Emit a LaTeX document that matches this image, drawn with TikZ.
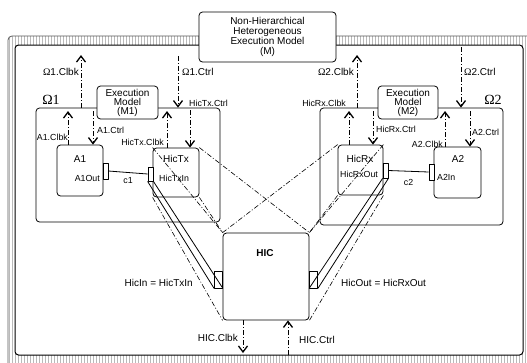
\documentclass[tikz,border=0pt]{standalone}
\usepackage{fontspec}
\setmainfont{Liberation Sans}
\newfontfamily\omfont{Liberation Serif}
\usetikzlibrary{arrows.meta, calc, patterns}

\tikzset{
  blk/.style={draw, rounded corners=3.5, fill=white, line width=0.8, inner sep=0},
  port/.style={draw, fill=white, line width=0.8, inner sep=0, minimum width=5, minimum height=15},
  sig/.style={line width=0.8, dash pattern=on 5pt off 2pt on 1pt off 2pt,
    -{Straight Barb[length=6pt, width=9pt, line width=1.3pt]}},
  proj/.style={line width=0.6, dash pattern=on 5pt off 2pt on 1pt off 2pt},
  lbl/.style={font=\fontsize{8.8}{9}\selectfont, inner sep=0},
  omlbl/.style={font=\fontsize{10}{10}\selectfont, inner sep=0},
  txt/.style={font=\fontsize{10}{10}\selectfont, inner sep=0, align=center},
}

\begin{document}
\begin{tikzpicture}[x=1pt, y=-1pt, line join=round]
  \useasboundingbox (0,0) rectangle (527,362);

  %% ---- hatched frame ----
  \begin{scope}
    \clip (0,0) rectangle (527,362);
    \draw[gray!70!black, line width=0.8, rounded corners=4, pattern=vertical lines, pattern color=gray!55]
      (8,36) rectangle (560,390);
  \end{scope}
  \draw[blk, line width=1] (15,45) rectangle (523,355);

  %% ---- top level model ----
  \node[blk, minimum width=137, minimum height=50] (M) at (267.5,37) {};
  \node[txt, font=\fontsize{10}{10}\selectfont] (Mtxt) at (M.center)
    {Non-Hierarchical\\Heterogeneous\\Execution Model\\(M)};

  %% ---- domains ----
  \node[blk, minimum width=184, minimum height=114] (Om1) at (128,165) {};
  \node[blk, minimum width=183, minimum height=117] (Om2) at (411.5,166.5) {};
  \node[inner sep=0, font=\omfont\fontsize{14}{14}\selectfont] (Om1L) at (51,100) {Ω1};
  \node[inner sep=0, font=\omfont\fontsize{14}{14}\selectfont] (Om2L) at (493,100) {Ω2};

  \node[blk, minimum width=61, minimum height=33] (M1) at (127.5,102.5) {};
  \node[txt, font=\fontsize{10}{9}\selectfont] (M1txt) at (M1.center) {Execution\\Model\\(M1)};
  \node[blk, minimum width=60, minimum height=33] (M2) at (408,102.5) {};
  \node[txt, font=\fontsize{10}{9}\selectfont] (M2txt) at (M2.center) {Execution\\Model\\(M2)};

  %% ---- components ----
  \node[blk, minimum width=46, minimum height=51] (A1) at (80,170.5) {};
  \node[blk, minimum width=46, minimum height=49] (HicTx) at (176,172.5) {};
  \node[blk, minimum width=45, minimum height=50] (HicRx) at (360.5,170) {};
  \node[blk, minimum width=47, minimum height=51] (A2) at (457.5,172.5) {};
  \node[blk, minimum width=86, minimum height=87] (HIC) at (266,276.5) {};

  \node[txt] (A1L) at (80,159) {A1};
  \node[lbl, anchor=east] (A1OutL) at (100,178) {A1Out};
  \node[txt] (HicTxL) at (176,159) {HicTx};
  \node[lbl, anchor=west] (HicTxInL) at (159,178) {HicTxIn};
  \node[txt] (HicRxL) at (360,159) {HicRx};
  \node[lbl, anchor=west] (HicRxOutL) at (340,174) {HicRxOut};
  \node[txt] (A2L) at (458,159) {A2};
  \node[lbl, anchor=west] (A2InL) at (437,177) {A2In};
  \node[txt, font=\bfseries\fontsize{10}{10}\selectfont] (HICL) at (265,253) {HIC};

  %% ---- ports ----
  \node[port, minimum height=16] (A1out) at (105.5,171) {};
  \node[port, minimum height=14] (HicTxin) at (150.5,174) {};
  \node[port] (HicRxout) at (385.5,170.5) {};
  \node[port, minimum height=16] (A2in) at (431.5,172) {};
  \node[port, minimum width=8, minimum height=17] (HICin) at (218.5,279.5) {};
  \node[port, minimum width=8, minimum height=17] (HICout) at (313.5,279.5) {};

  %% ---- channels ----
  \draw[line width=0.8] (A1out.east) -- (HicTxin.west) node[lbl, midway, below=5pt] (c1) {c1};
  \draw[line width=0.8] (HicRxout.east) -- (A2in.west) node[lbl, midway, below=8pt] (c2) {c2};

  %% ---- port equivalences ----
  \draw[line width=0.8] (HicTxin.south west) -- (HICin.south west);
  \draw[line width=0.8] (HicTxin.south east) -- (HICin.south east);
  \draw[line width=0.8] (HicRxout.south east) -- (HICout.south east);
  \draw[line width=0.8] (HicRxout.south west) -- (HICout.south west);
  \node[omlbl, anchor=east] (HicInL) at (193,283) {HicIn = HicTxIn};
  \node[omlbl, anchor=west] (HicOutL) at (341,283) {HicOut = HicRxOut};

  %% ---- projections onto HIC ----
  \draw[proj] (HicTx.north east) -- (HIC.north east);
  \draw[proj] (HicTx.north west) -- (HIC.north west);
  \draw[proj] (HicTx.south east) -- (HIC.north west);
  \draw[proj] (HicTx.south west) -- (HIC.south west);
  \draw[proj] (HicRx.north west) -- (HIC.north west);
  \draw[proj] (HicRx.north east) -- (HIC.north east);
  \draw[proj] (HicRx.south west) -- (HIC.north east);
  \draw[proj] (HicRx.south east) -- (HIC.south east);

  %% ---- top level signals ----
  \coordinate (o1clbk) at (81,55);
  \coordinate (o1ctrl) at (178,56);
  \coordinate (o2clbk) at (357,55);
  \coordinate (o2ctrl) at (461,47);
  \draw[sig] (o1clbk |- Om1.north) -- (o1clbk);
  \draw[sig] (o1ctrl) -- (o1ctrl |- Om1.north);
  \draw[sig] (o2clbk |- Om2.north) -- (o2clbk);
  \draw[sig] (o2ctrl) -- (o2ctrl |- Om2.north);
  \node[omlbl, anchor=east] (o1clbkL) at (79,72) {{\omfont Ω}1.Clbk};
  \node[omlbl, anchor=west] (o1ctrlL) at (182,72) {{\omfont Ω}1.Ctrl};
  \node[omlbl, anchor=east] (o2clbkL) at (354,72) {{\omfont Ω}2.Clbk};
  \node[omlbl, anchor=west] (o2ctrlL) at (464,72) {{\omfont Ω}2.Ctrl};

  %% ---- domain signals ----
  \coordinate (a1clbk) at (68,111);
  \coordinate (a1ctrl) at (93,111);
  \coordinate (txclbk) at (167,111);
  \coordinate (txctrl) at (190,110);
  \coordinate (rxclbk) at (349,111);
  \coordinate (rxctrl) at (373,111);
  \coordinate (a2clbk) at (445,111);
  \coordinate (a2ctrl) at (470,111);
  \draw[sig] (a1clbk |- A1.north) -- (a1clbk);
  \draw[sig] (a1ctrl) -- (a1ctrl |- A1.north);
  \draw[sig] (txclbk |- HicTx.north) -- (txclbk);
  \draw[sig] (txctrl) -- (txctrl |- HicTx.north);
  \draw[sig] (rxclbk |- HicRx.north) -- (rxclbk);
  \draw[sig] (rxctrl) -- (rxctrl |- HicRx.north);
  \draw[sig] (a2clbk |- A2.north) -- (a2clbk);
  \draw[sig] (a2ctrl) -- (a2ctrl |- A2.north);
  \node[lbl, anchor=east] (a1clbkL) at (68,137) {A1.Clbk};
  \node[lbl, anchor=west] (a1ctrlL) at (97,130) {A1.Ctrl};
  \node[lbl, anchor=east] (txclbkL) at (164,142) {HicTx.Clbk};
  \node[lbl, anchor=west] (txctrlL) at (189,103) {HicTx.Ctrl};
  \node[lbl, anchor=east] (rxclbkL) at (346,103) {HicRx.Clbk};
  \node[lbl, anchor=west] (rxctrlL) at (376,129) {HicRx.Ctrl};
  \node[lbl, anchor=east] (a2clbkL) at (443,144) {A2.Clbk};
  \node[lbl, anchor=west] (a2ctrlL) at (472,132) {A2.Ctrl};

  %% ---- HIC signals ----
  \coordinate (hicclbk) at (243,353);
  \coordinate (hicctrl) at (288,355);
  \draw[sig] (hicclbk |- HIC.south) -- (hicclbk);
  \draw[sig] (hicctrl) -- (hicctrl |- HIC.south);
  \node[omlbl, anchor=east] (hicclbkL) at (238,338) {HIC.Clbk};
  \node[omlbl, anchor=west] (hicctrlL) at (299,340) {HIC.Ctrl};
\end{tikzpicture}
\end{document}
